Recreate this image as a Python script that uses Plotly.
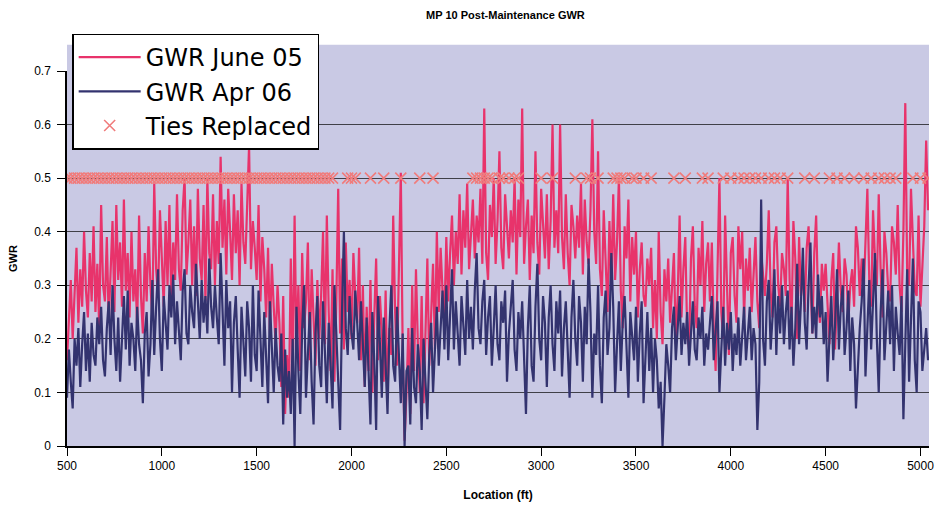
import plotly.graph_objects as go

# Location grid (ft): one reading every 10 ft starting at 500 ft
location_start = 500
location_step = 10

gwr_june05 = [
    0.16, 0.24, 0.31, 0.20, 0.28, 0.37, 0.23, 0.33, 0.26, 0.40, 0.29, 0.24, 0.36, 0.27, 0.41, 0.25, 0.34, 0.22, 0.45, 0.30,
    0.27, 0.39, 0.23, 0.33, 0.42, 0.25, 0.45, 0.31, 0.38, 0.26, 0.46, 0.29, 0.36, 0.24, 0.40, 0.27, 0.33, 0.22, 0.43, 0.28,
    0.21, 0.36, 0.27, 0.41, 0.30, 0.24, 0.49, 0.33, 0.28, 0.44, 0.35, 0.26, 0.42, 0.30, 0.45, 0.27, 0.38, 0.31, 0.47, 0.33,
    0.29, 0.44, 0.50, 0.32, 0.38, 0.46, 0.30, 0.41, 0.28, 0.48, 0.35, 0.31, 0.45, 0.27, 0.50, 0.36, 0.33, 0.47, 0.30, 0.42,
    0.34, 0.54, 0.37, 0.46, 0.32, 0.48, 0.40, 0.31, 0.47, 0.36, 0.44, 0.30, 0.49, 0.38, 0.34, 0.46, 0.56, 0.33, 0.42, 0.37,
    0.31, 0.45, 0.27, 0.39, 0.33, 0.24, 0.37, 0.21, 0.34, 0.26, 0.19, 0.30, 0.23, 0.11, 0.28, 0.06, 0.17, 0.09, 0.35, 0.13,
    0.43, 0.18, 0.30, 0.14, 0.36, 0.22, 0.27, 0.38, 0.16, 0.33, 0.24, 0.15, 0.31, 0.20, 0.28, 0.40, 0.19, 0.43, 0.25, 0.14,
    0.33, 0.12, 0.27, 0.48, 0.21, 0.35, 0.18, 0.38, 0.25, 0.31, 0.20, 0.36, 0.28, 0.23, 0.37, 0.16, 0.30, 0.11, 0.26, 0.14,
    0.31, 0.10, 0.24, 0.35, 0.16, 0.28, 0.21, 0.12, 0.29, 0.09, 0.22, 0.17, 0.43, 0.25, 0.15, 0.36, 0.51, 0.18, 0.01, 0.10,
    0.22, 0.06, 0.30, 0.14, 0.33, 0.19, 0.10, 0.28, 0.08, 0.21, 0.35, 0.15, 0.26, 0.34, 0.18, 0.40, 0.25, 0.37, 0.29, 0.24,
    0.39, 0.27, 0.36, 0.43, 0.30, 0.40, 0.34, 0.47, 0.32, 0.44, 0.37, 0.49, 0.33, 0.41, 0.46, 0.35, 0.43, 0.38, 0.48, 0.34,
    0.63, 0.36, 0.31, 0.45, 0.39, 0.50, 0.34, 0.42, 0.55, 0.37, 0.33, 0.47, 0.40, 0.35, 0.44, 0.38, 0.50, 0.32, 0.46, 0.39,
    0.63, 0.34, 0.41, 0.46, 0.31, 0.43, 0.36, 0.55, 0.38, 0.32, 0.48, 0.40, 0.35, 0.47, 0.33, 0.42, 0.60, 0.37, 0.44, 0.36,
    0.60, 0.39, 0.33, 0.47, 0.36, 0.30, 0.45, 0.41, 0.35, 0.43, 0.37, 0.49, 0.32, 0.46, 0.38, 0.34, 0.44, 0.61, 0.40, 0.34,
    0.55, 0.33, 0.28, 0.44, 0.36, 0.25, 0.42, 0.30, 0.47, 0.31, 0.38, 0.50, 0.29, 0.22, 0.41, 0.35, 0.46, 0.27, 0.39, 0.32,
    0.40, 0.24, 0.33, 0.38, 0.28, 0.26, 0.35, 0.30, 0.37, 0.22, 0.31, 0.20, 0.40, 0.25, 0.19, 0.33, 0.27, 0.35, 0.23, 0.30,
    0.36, 0.19, 0.28, 0.43, 0.24, 0.33, 0.39, 0.21, 0.18, 0.35, 0.41, 0.26, 0.22, 0.37, 0.30, 0.42, 0.25, 0.34, 0.38, 0.27,
    0.38, 0.22, 0.14, 0.33, 0.50, 0.25, 0.20, 0.43, 0.31, 0.17, 0.36, 0.39, 0.28, 0.23, 0.41, 0.33, 0.40, 0.24, 0.35, 0.29,
    0.37, 0.25, 0.32, 0.39, 0.27, 0.22, 0.36, 0.31, 0.28, 0.34, 0.44, 0.29, 0.24, 0.38, 0.41, 0.30, 0.26, 0.36, 0.33, 0.28,
    0.50, 0.31, 0.22, 0.42, 0.35, 0.20, 0.39, 0.28, 0.33, 0.25, 0.37, 0.41, 0.30, 0.21, 0.36, 0.43, 0.27, 0.23, 0.34, 0.29,
    0.34, 0.26, 0.19, 0.31, 0.36, 0.18, 0.27, 0.38, 0.29, 0.25, 0.35, 0.32, 0.23, 0.30, 0.33, 0.26, 0.41, 0.37, 0.28, 0.35,
    0.28, 0.38, 0.48, 0.31, 0.26, 0.44, 0.35, 0.30, 0.47, 0.33, 0.24, 0.40, 0.36, 0.29, 0.27, 0.41, 0.38, 0.32, 0.45, 0.30,
    0.25, 0.40, 0.64, 0.32, 0.30, 0.48, 0.37, 0.29, 0.28, 0.43, 0.26, 0.35, 0.41, 0.57, 0.44,
]

gwr_apr06 = [
    0.09, 0.18, 0.12, 0.07, 0.20, 0.15, 0.22, 0.11, 0.19, 0.25, 0.14, 0.21, 0.12, 0.23, 0.17, 0.15, 0.24, 0.19, 0.26, 0.16,
    0.13, 0.22, 0.27, 0.17, 0.30, 0.20, 0.14, 0.24, 0.12, 0.21, 0.28, 0.18, 0.29, 0.15, 0.23, 0.20, 0.14, 0.26, 0.19, 0.16,
    0.08, 0.21, 0.25, 0.13, 0.19, 0.31, 0.17, 0.26, 0.33, 0.20, 0.14, 0.28, 0.22, 0.18, 0.30, 0.24, 0.32, 0.19, 0.27, 0.22,
    0.16, 0.29, 0.33, 0.21, 0.19, 0.30, 0.25, 0.22, 0.34, 0.27, 0.20, 0.31, 0.23, 0.28, 0.21, 0.35, 0.26, 0.22, 0.30, 0.24,
    0.19, 0.36, 0.25, 0.15, 0.31, 0.22, 0.27, 0.10, 0.23, 0.28, 0.18, 0.09, 0.26, 0.20, 0.13, 0.27, 0.22, 0.12, 0.30, 0.17,
    0.14, 0.29, 0.20, 0.11, 0.25, 0.17, 0.08, 0.27, 0.19, 0.10, 0.22, 0.15, 0.12, 0.21, 0.04, 0.18, 0.09, 0.14, 0.06, 0.20,
    0.00, 0.26, 0.14, 0.06, 0.22, 0.30, 0.09, 0.19, 0.25, 0.12, 0.04, 0.21, 0.28, 0.15, 0.11, 0.27, 0.18, 0.08, 0.23, 0.16,
    0.07, 0.30, 0.21, 0.12, 0.03, 0.25, 0.40, 0.22, 0.17, 0.28, 0.21, 0.18, 0.29, 0.23, 0.16, 0.27, 0.20, 0.11, 0.24, 0.14,
    0.04, 0.25, 0.16, 0.03, 0.28, 0.19, 0.09, 0.24, 0.13, 0.06, 0.22, 0.30, 0.15, 0.12, 0.26, 0.18, 0.08, 0.21, 0.00, 0.14,
    0.15, 0.04, 0.22, 0.11, 0.08, 0.19, 0.14, 0.03, 0.20, 0.12, 0.05, 0.17, 0.23, 0.10, 0.18, 0.26, 0.15, 0.21, 0.29, 0.18,
    0.30, 0.16, 0.24, 0.33, 0.18, 0.27, 0.21, 0.15, 0.28, 0.23, 0.17, 0.31, 0.20, 0.26, 0.18, 0.29, 0.36, 0.22, 0.19, 0.27,
    0.31, 0.17, 0.24, 0.28, 0.15, 0.22, 0.30, 0.19, 0.16, 0.27, 0.23, 0.29, 0.12, 0.21, 0.26, 0.31, 0.18, 0.14, 0.25, 0.20,
    0.27, 0.18, 0.06, 0.22, 0.30, 0.15, 0.12, 0.26, 0.34, 0.20, 0.16, 0.28, 0.23, 0.11, 0.24, 0.30, 0.19, 0.14, 0.27, 0.21,
    0.29, 0.13, 0.22, 0.27, 0.17, 0.09, 0.24, 0.31, 0.20, 0.15, 0.28, 0.23, 0.12, 0.26, 0.19, 0.35, 0.25, 0.09, 0.21, 0.17,
    0.30, 0.15, 0.08, 0.24, 0.29, 0.17, 0.22, 0.36, 0.26, 0.10, 0.19, 0.27, 0.14, 0.23, 0.28, 0.18, 0.09, 0.25, 0.20, 0.16,
    0.26, 0.12, 0.21, 0.27, 0.08, 0.18, 0.25, 0.14, 0.22, 0.10, 0.20, 0.16, 0.07, 0.12, 0.00, 0.09, 0.19, 0.15, 0.10, 0.22,
    0.26, 0.16, 0.21, 0.28, 0.17, 0.23, 0.19, 0.25, 0.15, 0.22, 0.27, 0.18, 0.16, 0.24, 0.20, 0.26, 0.15, 0.21, 0.18, 0.23,
    0.28, 0.16, 0.22, 0.27, 0.10, 0.19, 0.26, 0.15, 0.23, 0.18, 0.25, 0.14, 0.21, 0.17, 0.24, 0.15, 0.20, 0.26, 0.16, 0.22,
    0.26, 0.16, 0.22, 0.19, 0.03, 0.12, 0.46, 0.20, 0.15, 0.27, 0.31, 0.18, 0.24, 0.33, 0.17, 0.28, 0.21, 0.30, 0.19, 0.25,
    0.29, 0.18, 0.26, 0.15, 0.22, 0.34, 0.19, 0.27, 0.37, 0.23, 0.18, 0.30, 0.38, 0.21, 0.26, 0.20, 0.32, 0.24, 0.28, 0.19,
    0.25, 0.12, 0.20, 0.28, 0.16, 0.23, 0.33, 0.18, 0.26, 0.30, 0.17, 0.22, 0.29, 0.14, 0.24, 0.19, 0.07, 0.15, 0.22, 0.27,
    0.35, 0.13, 0.24, 0.31, 0.18, 0.27, 0.36, 0.20, 0.10, 0.25, 0.33, 0.16, 0.22, 0.29, 0.19, 0.30, 0.14, 0.26, 0.21, 0.17,
    0.28, 0.05, 0.19, 0.33, 0.12, 0.24, 0.35, 0.16, 0.10, 0.27, 0.25, 0.14, 0.18, 0.22, 0.16,
]

ties_replaced_ft = [
    500, 520, 540, 560, 580, 600, 620, 640, 660, 680, 700, 720, 740, 760, 780,
    800, 820, 840, 860, 880, 900, 920, 940, 960, 980, 1000, 1020, 1040, 1060,
    1080, 1100, 1120, 1140, 1160, 1180, 1200, 1220, 1240, 1260, 1280, 1300,
    1320, 1340, 1360, 1380, 1400, 1420, 1440, 1460, 1480, 1500, 1520, 1540,
    1560, 1580, 1600, 1620, 1640, 1660, 1680, 1700, 1720, 1740, 1760, 1780,
    1800, 1820, 1840, 1860, 1880, 1900,
    1980, 2000, 2020, 2100, 2170, 2260, 2360, 2430, 2640, 2660, 2680, 2700,
    2720, 2740, 2780, 2800, 2830, 2860, 2880, 3000, 3060, 3180, 3240, 3260,
    3300, 3380, 3400, 3420, 3440, 3480, 3500, 3540, 3580, 3700, 3760, 3850,
    3880, 3960, 4000, 4040, 4070, 4100, 4130, 4160, 4200, 4230, 4260, 4300,
    4390, 4440, 4520, 4560, 4600, 4650, 4700, 4740, 4780, 4810, 4840, 4870,
    4960, 5000, 5040,
]
ties_level = 0.5

x_ticks = [500, 1000, 1500, 2000, 2500, 3000, 3500, 4000, 4500, 5000]
y_ticks = [0, 0.1, 0.2, 0.3, 0.4, 0.5, 0.6, 0.7]

locations = [location_start + i * location_step for i in range(len(gwr_june05))]

PINK = "#e8336b"
NAVY = "#33336f"
TIE = "#f07c7c"
BG = "#c9c9e4"
FONT = "Liberation Sans, Arial, sans-serif"

fig = go.Figure()
fig.add_trace(go.Scatter(
    x=locations, y=gwr_june05, mode="lines", name="GWR June 05",
    line=dict(color=PINK, width=2.2), legendgroup="a",
))
fig.add_trace(go.Scatter(
    x=locations, y=gwr_apr06, mode="lines", name="GWR Apr 06",
    line=dict(color=NAVY, width=2.2), legendgroup="b",
))
fig.add_trace(go.Scatter(
    x=ties_replaced_ft, y=[ties_level] * len(ties_replaced_ft), mode="markers",
    name="Ties Replaced", legendgroup="c",
    marker=dict(symbol="x-thin-open", size=11, color=TIE,
                line=dict(color=TIE, width=1.6)),
))

fig.update_layout(
    width=936, height=506,
    margin=dict(l=67, r=7, t=71, b=60, autoexpand=False),
    paper_bgcolor="white",
    plot_bgcolor=BG,
    font=dict(family=FONT, color="black", size=12),
    title=dict(text="<b>MP 10 Post-Maintenance GWR</b>", x=0.54, xanchor="center",
               y=0.97, yanchor="middle", font=dict(size=11, family=FONT)),
    showlegend=True,
    legend=dict(x=0.006, y=1.1, xanchor="left", yanchor="top",
                bgcolor="white", bordercolor="black", borderwidth=1.5,
                font=dict(size=24, family="DejaVu Sans, sans-serif"),
                tracegroupgap=0, itemwidth=62),
    shapes=[dict(type="rect", xref="paper", yref="paper", x0=0, x1=1,
                 y0=1.0, y1=1.07, fillcolor=BG, line=dict(width=0),
                 layer="below")],
)
fig.update_xaxes(
    range=[500, 5045], tickvals=x_ticks, showgrid=False, zeroline=False,
    showline=True, linecolor="black", linewidth=1.5, ticks="outside",
    ticklen=8, tickcolor="black", tickfont=dict(size=12),
    title=dict(text="<b>Location (ft)</b>", font=dict(size=12), standoff=18),
)
fig.update_yaxes(
    range=[0, 0.7], tickvals=y_ticks, showgrid=True, gridcolor="#404048",
    gridwidth=1.2, zeroline=False, showline=True, linecolor="black",
    linewidth=1.5, ticks="outside", ticklen=8, tickcolor="black",
    tickfont=dict(size=12), ticklabelstandoff=4,
    title=dict(text="<b>GWR</b>", font=dict(size=11), standoff=14),
)

fig.write_html("out.html", config={"displayModeBar": False},
               post_script="document.body.style.margin='0px';")
